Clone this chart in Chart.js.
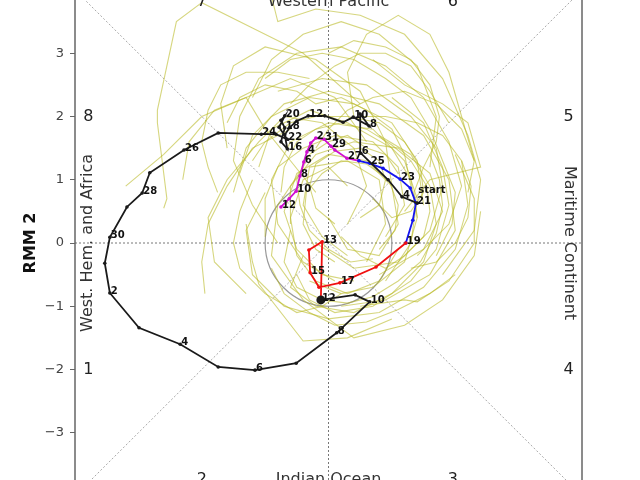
<!DOCTYPE html>
<html>
<head>
<meta charset="utf-8">
<script src="https://cdn.jsdelivr.net/npm/chart.js@4.4.0/dist/chart.umd.min.js"></script>
<style>
html, body { margin: 0; padding: 0; background: #fff; overflow: hidden; }
#wrap { position: absolute; left: 0; top: -30px; width: 640px; height: 560px; }
</style>
</head>
<body>
<div id="wrap"><canvas id="mjo" width="640" height="560"></canvas></div>
<script>
// observed RMM path, one colour per segment; labels are the day numbers
const blackX = [1.40, 1.16, 0.94, 0.51, 0.50, 0.64, 0.39, 0.23, -0.06, -0.32, -0.50, -0.61, -0.69, -0.65, -0.75, -0.69, -0.75, -0.69, -0.78, -0.65, -0.83, -1.06, -1.74, -2.28, -2.82, -2.94, -3.18, -3.45, -3.53, -3.45, -2.99, -2.34, -1.74, -1.16, -0.51, 0.13, 0.65, 0.42, -0.12];
const blackY = [0.63, 0.73, 1.00, 1.42, 2.04, 1.85, 1.99, 1.91, 2.01, 2.01, 1.93, 1.83, 1.71, 1.49, 1.60, 1.82, 1.94, 2.01, 1.83, 1.64, 1.72, 1.72, 1.74, 1.47, 1.11, 0.79, 0.57, 0.09, -0.32, -0.79, -1.34, -1.60, -1.96, -2.01, -1.90, -1.42, -0.93, -0.82, -0.90];
const blackDays = ['start', '4', '', '6', '', '8', '10', '', '', '12', '', '', '', '16', '', '18', '', '20', '', '22', '', '24', '', '26', '', '28', '', '30', '', '2', '', '4', '', '6', '', '8', '10', '', '12'];

const redX = [-0.12, -0.10, -0.31, -0.29, -0.15, 0.18, 0.75, 1.22];
const redY = [-0.87, 0.02, -0.11, -0.47, -0.70, -0.63, -0.38, 0.00];
const redDays = ['', '13', '', '15', '', '17', '', '19'];

const blueX = [1.22, 1.33, 1.38, 1.29, 1.13, 0.86, 0.65, 0.48];
const blueY = [0.00, 0.36, 0.63, 0.87, 1.01, 1.18, 1.26, 1.30];
const blueDays = ['', '', '21', '', '23', '', '25', ''];

const magentaX = [0.48, 0.29, 0.10, 0.04, -0.07, -0.20, -0.28, -0.34, -0.39, -0.45, -0.51, -0.62, -0.75];
const magentaY = [1.30, 1.34, 1.47, 1.53, 1.64, 1.66, 1.58, 1.44, 1.28, 1.06, 0.82, 0.70, 0.57];
const magentaDays = ['', '27', '', '29', '31', '2', '', '4', '6', '8', '10', '', '12'];

// background spaghetti of other years, [RMM1, RMM2] pairs
const yellowTracks = [
  [[1.4,-0.2],[1.9,0.3],[2.1,0.9],[1.9,1.6],[1.5,2.3],[0.9,2.8],[0.2,3.1],[-0.5,3.0],[-1.1,2.6],[-1.4,2.0],[-1.5,1.3],[-1.2,0.6],[-0.8,0.0]],
  [[1.8,-0.5],[2.3,0.2],[2.4,1.0],[2.2,1.7],[1.8,2.6],[1.2,3.3],[0.5,3.6],[-0.2,3.7],[-0.8,3.5],[-0.9,3.9]],
  [[0.6,1.6],[0.1,2.3],[-0.6,2.6],[-1.3,2.3],[-2.0,2.0],[-2.6,1.4],[-3.2,0.9]],
  [[0.5,2.2],[-0.4,3.0],[-1.2,3.4],[-2.0,3.8],[-2.4,3.5],[-2.7,2.1],[-2.7,1.9],[-2.55,0.7],[-2.6,0.55]],
  [[0.9,-0.6],[1.3,0.0],[1.4,0.7],[1.2,1.3],[0.7,1.8],[0.0,1.9],[-0.6,1.6],[-0.9,1.0],[-0.8,0.3],[-0.4,-0.3],[0.1,-0.6]],
  [[0.2,-1.0],[0.9,-0.9],[1.6,-0.5],[2.0,0.2],[1.9,1.0],[1.5,1.7],[0.8,2.2],[0.0,2.4],[-0.7,2.2],[-1.2,1.7],[-1.4,1.1]],
  [[-1.0,0.8],[-1.3,0.2],[-1.2,-0.5],[-0.7,-1.0],[0.0,-1.2],[0.8,-1.1],[1.5,-0.7],[2.0,-0.1],[2.2,0.6],[2.1,1.3]],
  [[-0.4,1.2],[-0.8,0.6],[-0.9,-0.2],[-0.4,-0.9],[0.4,-1.5],[1.2,-1.3],[1.8,-0.9],[2.3,-0.2],[2.4,0.5]],
  [[0.3,0.3],[0.6,0.9],[0.4,1.5],[-0.1,1.9],[-0.7,2.0],[-1.1,1.6],[-1.6,1.0],[-1.9,0.4],[-1.8,-0.3],[-1.3,-0.8]],
  [[1.0,0.9],[0.9,1.6],[0.5,2.4],[-0.2,2.9],[-1.0,3.1],[-1.5,2.8],[-1.7,2.2],[-1.6,1.5]],
  [[1.6,1.2],[1.7,2.0],[1.4,2.8],[0.8,3.3],[0.2,3.5],[-0.4,3.3],[-0.9,2.9],[-1.2,2.3]],
  [[-0.2,0.0],[0.4,-0.4],[1.1,-0.3],[1.6,0.2],[1.8,0.9],[1.7,1.5],[1.3,2.0],[0.6,2.5],[-0.1,2.6],[-0.8,2.4]],
  [[0.8,-0.5],[1.5,-0.1],[1.8,0.5],[1.6,1.1],[1.1,1.5],[0.4,1.6],[-0.2,1.4],[-0.6,0.9],[-0.6,0.3]],
  [[-0.6,1.8],[-1.2,1.5],[-1.6,0.9],[-1.9,0.3],[-2.0,-0.3],[-1.95,-0.8]],
  [[-1.3,0.3],[-1.2,-0.3],[-1.1,-0.65],[-0.4,-1.55],[0.3,-1.5],[1.0,-1.2]],
  [[0.5,-1.0],[1.2,-0.9],[1.4,-0.93],[1.9,-0.6],[2.3,0.0],[2.3,0.7],[2.0,1.4]],
  [[0.0,0.4],[0.3,-0.1],[0.8,-0.2],[1.1,0.3],[1.0,0.9],[0.6,1.3],[0.0,1.4],[-0.5,1.1],[-0.7,0.5],[-0.5,-0.1],[-0.1,-0.5],[0.4,-0.6]],
  [[-0.3,-0.6],[0.2,-0.8],[0.7,-0.7],[1.2,-0.3],[1.4,0.4],[1.3,1.0],[1.0,1.5],[0.3,1.9],[-0.3,2.1],[-0.9,1.8],[-1.1,1.2]],
  [[0.4,2.0],[0.3,2.7],[0.6,3.3],[1.1,3.6],[1.6,3.3],[1.9,2.7],[2.1,2.0],[2.3,1.3]],
  [[-0.2,0.8],[-0.6,1.3],[-1.0,1.8],[-1.3,2.3],[-1.8,2.1],[-2.2,1.6],[-2.3,1.0]],
  [[1.2,0.5],[1.6,1.0],[2.4,1.2],[2.2,1.9],[1.8,2.2],[1.2,2.5],[0.7,2.9]],
  [[0.6,-0.3],[0.9,0.3],[0.8,1.0],[0.3,1.3],[-0.3,1.2],[-0.4,0.6],[-0.1,0.1],[0.3,-0.2]],
  [[-0.4,-0.2],[-0.6,-0.7],[-0.2,-1.0],[0.4,-1.1],[1.0,-0.8],[1.5,-0.3],[1.7,0.3],[1.6,0.9],[1.3,1.4],[0.8,1.7]],
  [[0.9,0.1],[1.2,0.6],[1.1,1.2],[0.7,1.6],[0.1,1.7],[-0.4,1.5],[-0.8,1.2],[-1.0,0.7],[-1.0,0.1]],
  [[-0.5,-0.5],[-0.3,-0.9],[0.1,-1.1],[0.7,-1.0],[1.3,-0.6],[1.7,-0.1],[1.9,0.6],[1.8,1.2],[1.5,1.9],[1.0,2.3]],
  [[0.3,0.9],[0.0,1.2],[-0.4,1.0],[-0.6,0.4],[-0.5,-0.2],[-0.2,-0.6],[0.3,-0.8],[0.8,-0.6],[1.1,-0.1]],
  [[1.5,0.6],[1.4,1.3],[1.0,1.9],[0.4,2.2],[-0.3,2.3],[-0.9,2.0],[-1.3,1.5],[-1.5,0.8]],
  [[0.2,0.1],[0.5,-0.2],[0.9,-0.4],[1.2,-0.2],[1.5,0.1],[1.6,0.5],[1.55,0.9],[1.3,1.3],[1.0,1.55],[0.6,1.8],[0.2,1.9],[-0.2,1.8],[-0.5,1.6],[-0.7,1.2],[-0.75,0.8]],
  [[-0.6,0.2],[-0.7,-0.3],[-0.5,-0.7],[-0.1,-0.9],[0.3,-0.95],[0.7,-0.85],[1.1,-0.6],[1.45,-0.3],[1.7,0.15],[1.8,0.6],[1.75,1.0],[1.6,1.4]],
  [[1.1,1.1],[0.9,1.4],[0.6,1.5],[0.3,1.7],[0.0,1.6],[-0.3,1.4],[-0.5,1.0],[-0.45,0.6],[-0.3,0.2],[0.0,-0.1],[0.35,-0.3],[0.7,-0.25]],
  [[-1.0,2.6],[-0.6,2.9],[-0.1,3.0],[0.4,2.9],[0.9,2.6],[1.3,2.3],[1.6,1.8],[1.8,1.3],[2.0,0.8],[1.95,0.3],[1.7,-0.2]],
  [[-0.3,2.6],[-0.8,2.7],[-1.3,2.7],[-1.7,2.5],[-1.9,2.1],[-2.0,1.6],[-1.9,1.2],[-1.75,0.8]],
  [[2.2,0.8],[2.3,1.3],[2.1,1.8],[1.7,2.2],[1.2,2.4],[0.7,2.3],[0.3,2.1],[0.0,1.8],[-0.2,1.5]],
  [[1.3,-0.4],[1.7,-0.3],[2.0,0.0],[2.2,0.4],[2.25,0.9],[2.1,1.3],[1.8,1.7],[1.4,1.9],[0.9,2.0],[0.5,2.0]],
  [[0.1,-0.3],[-0.2,-0.1],[-0.4,0.3],[-0.35,0.8],[-0.1,1.1],[0.2,1.3],[0.6,1.25],[0.95,1.0],[1.1,0.6],[1.05,0.2],[0.8,-0.1]],
  [[0.0,3.0],[0.4,3.2],[0.9,3.1],[1.3,2.9],[1.6,2.5],[1.75,2.0],[1.7,1.6],[1.5,1.2],[1.35,0.8],[1.4,0.4]],
  [[-1.6,1.9],[-1.4,2.3],[-1.0,2.5],[-0.5,2.4],[-0.2,2.2],[0.2,2.3],[0.6,2.1],[1.0,1.8],[1.2,1.4],[1.3,0.9]],
  [[-0.9,-0.4],[-0.7,-0.8],[-0.3,-1.1],[0.1,-1.3],[0.6,-1.25],[1.1,-1.05],[1.6,-0.8],[2.0,-0.5]],
  [[0.5,0.4],[0.8,0.6],[0.9,1.0],[0.8,1.3],[0.5,1.5],[0.1,1.45],[-0.2,1.25],[-0.3,0.9],[-0.2,0.55],[0.1,0.3]],
  [[-1.2,1.0],[-1.4,0.5],[-1.5,0.0],[-1.4,-0.4],[-1.0,-0.8],[-0.5,-1.1],[-0.1,-1.0],[0.2,-0.8]],
  [[1.9,1.9],[1.6,2.4],[1.3,2.8],[0.9,3.0],[0.5,3.0],[0.1,2.8],[-0.3,2.5],[-0.6,2.2]],
  [[0.7,0.7],[1.0,0.4],[1.3,0.5],[1.5,0.8],[1.45,1.2],[1.2,1.6],[0.8,1.9],[0.3,2.0],[-0.2,2.0],[-0.6,1.9],[-1.0,1.6],[-1.2,1.3]]
];

const axisTicks = [-4, -3, -2, -1, 0, 1, 2, 3, 4];
const phaseNames = ['1', '2', '3', '4', '5', '6', '7', '8'];
const phaseX = [-3.79, -2.0, 1.96, 3.79, 3.79, 1.96, -2.0, -3.79];
const phaseY = [-2.0, -3.75, -3.75, -2.0, 2.0, 3.81, 3.81, 2.0];

const FONT = '"DejaVu Sans", sans-serif';

function pts(xs, ys) {
  return xs.map((x, i) => ({ x: x, y: ys[i] }));
}

function pathSet(xs, ys, color) {
  return {
    data: pts(xs, ys),
    showLine: true,
    borderColor: color,
    backgroundColor: color,
    borderWidth: 1.8,
    pointRadius: 1.8,
    pointBorderWidth: 0
  };
}

const datasets = [];
const blackSet = pathSet(blackX, blackY, '#1a1a1a');
blackSet.pointRadius = blackX.map((v, i) => i === blackX.length - 1 ? 4.5 : 1.8);
datasets.push(blackSet);
datasets.push(pathSet(redX, redY, '#f01010'));
datasets.push(pathSet(blueX, blueY, '#1515f0'));
datasets.push(pathSet(magentaX, magentaY, '#d010d0'));
yellowTracks.forEach(tr => {
  datasets.push({
    data: tr.map(p => ({ x: p[0], y: p[1] })),
    showLine: true,
    borderColor: 'rgba(185,185,35,0.58)',
    borderWidth: 1.1,
    pointRadius: 0
  });
});

// dashed phase dividers and unit circle, under the data
const guides = {
  id: 'guides',
  beforeDatasetsDraw(chart) {
    const { ctx, chartArea: a, scales: { x, y } } = chart;
    ctx.save();
    ctx.beginPath();
    ctx.rect(a.left, a.top, a.right - a.left, a.bottom - a.top);
    ctx.clip();
    ctx.lineWidth = 1;
    ctx.setLineDash([2, 2]);
    ctx.strokeStyle = '#a8a8a8';
    ctx.beginPath();
    ctx.moveTo(x.getPixelForValue(-4), y.getPixelForValue(-4));
    ctx.lineTo(x.getPixelForValue(4), y.getPixelForValue(4));
    ctx.moveTo(x.getPixelForValue(-4), y.getPixelForValue(4));
    ctx.lineTo(x.getPixelForValue(4), y.getPixelForValue(-4));
    ctx.stroke();
    ctx.strokeStyle = '#777';
    ctx.beginPath();
    ctx.moveTo(x.getPixelForValue(0), a.top);
    ctx.lineTo(x.getPixelForValue(0), a.bottom);
    ctx.moveTo(a.left, y.getPixelForValue(0));
    ctx.lineTo(a.right, y.getPixelForValue(0));
    ctx.stroke();
    ctx.setLineDash([]);
    ctx.strokeStyle = '#999';
    ctx.lineWidth = 1.2;
    ctx.beginPath();
    ctx.ellipse(x.getPixelForValue(0), y.getPixelForValue(0),
      x.getPixelForValue(1) - x.getPixelForValue(0),
      y.getPixelForValue(0) - y.getPixelForValue(1), 0, 0, Math.PI * 2);
    ctx.stroke();
    ctx.restore();
  },
  afterDatasetsDraw(chart) {
    const { ctx, scales: { x, y } } = chart;
    ctx.save();
    ctx.font = 'bold 10px ' + FONT;
    ctx.fillStyle = '#111';
    ctx.textAlign = 'left';
    ctx.textBaseline = 'alphabetic';
    [[blackX, blackY, blackDays], [redX, redY, redDays], [blueX, blueY, blueDays], [magentaX, magentaY, magentaDays]]
      .forEach(([X, Y, L]) => {
        L.forEach((t, i) => {
          if (!t) return;
          let px = x.getPixelForValue(X[i]) + 1;
          let py = y.getPixelForValue(Y[i]) + 1;
          if (t === 'start') py -= 11;
          ctx.fillText(t, px, py);
        });
      });
    ctx.restore();
  },
  afterDraw(chart) {
    const { ctx, chartArea: a, scales: { x, y } } = chart;
    ctx.save();
    ctx.strokeStyle = '#666';
    ctx.lineWidth = 1.5;
    ctx.strokeRect(a.left, a.top, a.right - a.left, a.bottom - a.top);

    ctx.fillStyle = '#222';
    ctx.font = '16px ' + FONT;
    ctx.textAlign = 'center';
    ctx.textBaseline = 'middle';
    phaseNames.forEach((p, i) => {
      ctx.fillText(p, x.getPixelForValue(phaseX[i]), y.getPixelForValue(phaseY[i]));
    });
    ctx.fillStyle = '#333';
    ctx.fillText('Western Pacific', x.getPixelForValue(0), y.getPixelForValue(3.81));
    ctx.fillText('Indian Ocean', x.getPixelForValue(0), y.getPixelForValue(-3.75));
    ctx.save();
    ctx.translate(x.getPixelForValue(-3.79), y.getPixelForValue(0));
    ctx.rotate(-Math.PI / 2);
    ctx.fillText('West. Hem. and Africa', 0, 0);
    ctx.restore();
    ctx.save();
    ctx.translate(x.getPixelForValue(3.79), y.getPixelForValue(0));
    ctx.rotate(Math.PI / 2);
    ctx.fillText('Maritime Continent', 0, 0);
    ctx.restore();
    ctx.restore();
  }
};

const tickFmt = v => v < 0 ? '\u2212' + (-v) : String(v);

function axis(title, isY) {
  return {
    type: 'linear',
    min: axisTicks[0],
    max: axisTicks[axisTicks.length - 1],
    afterBuildTicks: s => { s.ticks = axisTicks.map(v => ({ value: v })); },
    ticks: { callback: tickFmt, color: '#444', font: { family: FONT, size: 13 }, padding: 6 },
    grid: { drawOnChartArea: false, drawTicks: true, tickLength: 5, color: '#666' },
    border: { display: false },
    title: {
      display: true,
      text: title,
      color: '#111',
      font: { family: FONT, size: 16, weight: 'bold' },
      padding: isY ? { top: 21, bottom: 0 } : { top: 0, bottom: 0 }
    },
    afterFit: s => { if (isY) s.width = 75; else s.height = 34; }
  };
}

new Chart(document.getElementById('mjo'), {
  type: 'scatter',
  data: { datasets: datasets },
  options: {
    responsive: false,
    animation: false,
    layout: { padding: { top: 20, right: 58, bottom: 0, left: 0 } },
    plugins: { legend: { display: false }, tooltip: { enabled: false } },
    scales: { x: axis('RMM 1', false), y: axis('RMM 2', true) }
  },
  plugins: [guides]
});
</script>
</body>
</html>
